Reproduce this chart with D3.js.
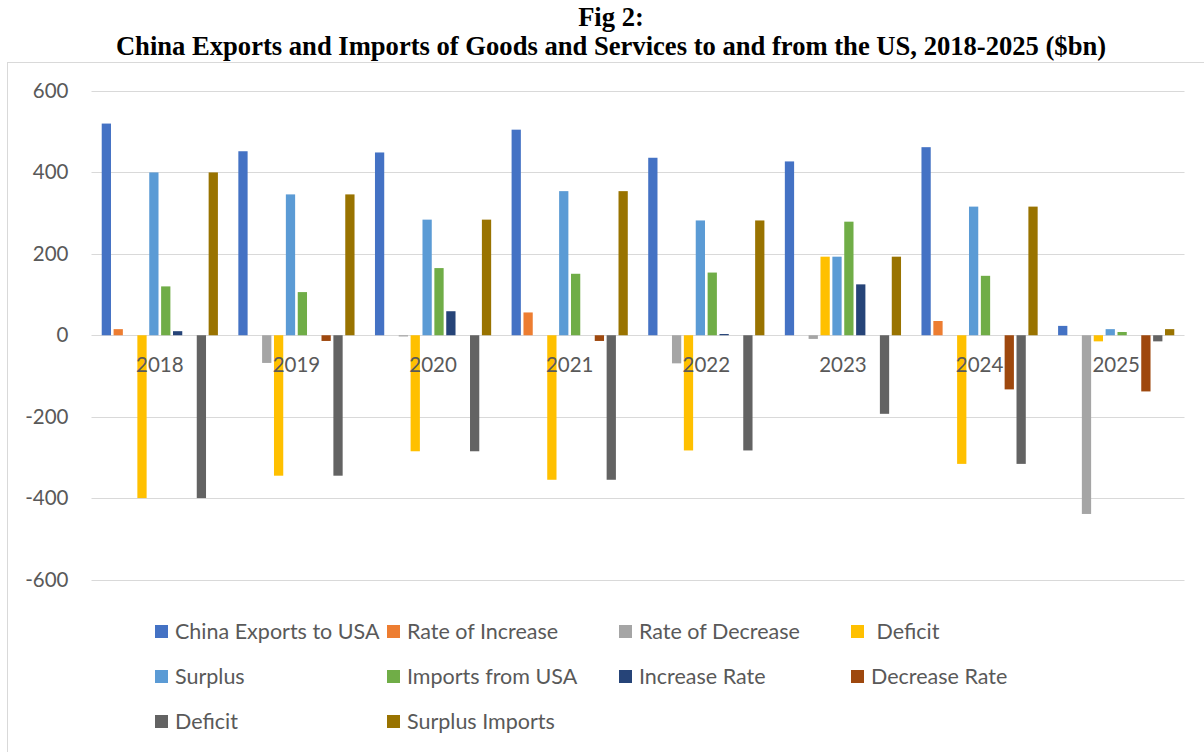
<!DOCTYPE html>
<html>
<head>
<meta charset="utf-8">
<script src="https://cdn.jsdelivr.net/npm/d3@7"></script>
<style>
  body { margin: 0; background: #fff; }
  svg { display: block; }
</style>
</head>
<body>
<svg id="chart" width="1204" height="752"></svg>
<script>
// Categories and series (values in $bn)
const years = ["2018", "2019", "2020", "2021", "2022", "2023", "2024", "2025"];
const seriesNames = ["China Exports to USA", "Rate of Increase", "Rate of Decrease", " Deficit",
  "Surplus", "Imports from USA", "Increase Rate", "Decrease Rate", "Deficit", "Surplus Imports"];
const seriesColors = ["#4472C4", "#ED7D31", "#A5A5A5", "#FFC000", "#5B9BD5",
  "#70AD47", "#264478", "#9E480E", "#636363", "#997300"];

const exportsToUSA   = [520, 452, 449, 505, 436, 427, 462, 23];
const rateOfIncrease = [15, null, null, 56, null, null, 35, null];
const rateOfDecrease = [null, -68, -3, null, -69, -9, null, -439];
const deficit1       = [-400, -345, -285, -355, -283, 193, -316, -15];
const surplus        = [400, 346, 284, 354, 282, 193, 316, 15];
const importsFromUSA = [120, 106, 165, 151, 154, 279, 146, 8];
const increaseRate   = [10, null, 59, null, 3, 125, null, null];
const decreaseRate   = [null, -14, null, -14, null, null, -133, -138];
const deficit2       = [-400, -345, -285, -355, -283, -193, -316, -15];
const surplusImports = [400, 346, 284, 354, 282, 193, 316, 15];

const yTicks = [-600, -400, -200, 0, 200, 400, 600];

const seriesValues = [exportsToUSA, rateOfIncrease, rateOfDecrease, deficit1, surplus,
  importsFromUSA, increaseRate, decreaseRate, deficit2, surplusImports];

const svg = d3.select("#chart");
const W = 1204, H = 752;
const plot = { left: 91.5, right: 1184.5, top: 91, bottom: 579.5 };
const textColor = "#595959";
const gridColor = "#d9d9d9";
const uiFont = "Lato, 'Open Sans', sans-serif";

svg.append("rect").attr("width", W).attr("height", H).attr("fill", "#fff");

// Chart-area frame
svg.append("rect")
  .attr("x", 7.5).attr("y", 62.5)
  .attr("width", W + 20).attr("height", H)
  .attr("fill", "none").attr("stroke", gridColor).attr("stroke-width", 1);

// Title
const title = svg.append("g")
  .attr("font-family", "'Liberation Serif', 'Times New Roman', serif")
  .attr("font-weight", "bold").attr("font-size", 26.6).attr("fill", "#000")
  .attr("text-anchor", "middle");
title.append("text").attr("x", 611).attr("y", 26).text("Fig 2:");
title.append("text").attr("x", 611).attr("y", 55)
  .text("China Exports and Imports of Goods and Services to and from the US, 2018-2025 ($bn)");

// Scales
const x0 = d3.scaleBand().domain(years).range([plot.left, plot.right]).padding(0);
const x1 = d3.scaleBand().domain(d3.range(seriesNames.length))
  .range([0, x0.bandwidth()]).paddingInner(0.22).paddingOuter(0.86);
const y = d3.scaleLinear().domain([-600, 600]).range([plot.bottom, plot.top]);

// Gridlines
svg.append("g")
  .selectAll("line").data(yTicks).join("line")
  .attr("x1", plot.left).attr("x2", plot.right)
  .attr("y1", d => Math.round(y(d)) + 0.5).attr("y2", d => Math.round(y(d)) + 0.5)
  .attr("stroke", gridColor).attr("stroke-width", 1);

// Y axis labels (plain hyphen for negatives)
const yAxis = svg.append("g")
  .attr("transform", `translate(${plot.left - 23},0)`)
  .call(d3.axisLeft(y).tickValues(yTicks).tickSize(0).tickPadding(0).tickFormat(d => String(d)));
yAxis.select(".domain").remove();
yAxis.selectAll("text")
  .attr("font-family", uiFont).attr("font-size", 20.5).attr("fill", textColor);

// Bars
const groups = svg.append("g").selectAll("g").data(years).join("g")
  .attr("transform", d => `translate(${x0(d)},0)`);

groups.selectAll("rect")
  .data((yr, i) => seriesValues.map((vals, s) => ({ s, v: vals[i] })).filter(d => d.v != null))
  .join("rect")
  .attr("x", d => x1(d.s))
  .attr("width", x1.bandwidth())
  .attr("y", d => y(Math.max(0, d.v)))
  .attr("height", d => Math.abs(y(d.v) - y(0)))
  .attr("fill", d => seriesColors[d.s]);

// Category labels next to the zero line
const xAxis = svg.append("g")
  .attr("transform", `translate(0,${y(0) + 22})`)
  .call(d3.axisBottom(x0).tickSize(0).tickPadding(0));
xAxis.select(".domain").remove();
xAxis.selectAll("text")
  .attr("font-family", uiFont).attr("font-size", 20.5).attr("fill", textColor);

// Legend
const legend = svg.append("g").attr("font-family", uiFont).attr("font-size", 21.5).attr("fill", textColor);
const items = legend.selectAll("g").data(seriesNames).join("g")
  .attr("transform", (d, i) => `translate(${155 + (i % 4) * 232},${631.5 + Math.floor(i / 4) * 45})`);
items.append("rect")
  .attr("x", 0).attr("y", -6.5).attr("width", 13).attr("height", 13)
  .attr("fill", (d, i) => seriesColors[i]);
items.append("text")
  .attr("x", 20).attr("dy", "0.36em")
  .attr("xml:space", "preserve")
  .style("white-space", "pre")
  .text(d => d);
</script>
</body>
</html>
